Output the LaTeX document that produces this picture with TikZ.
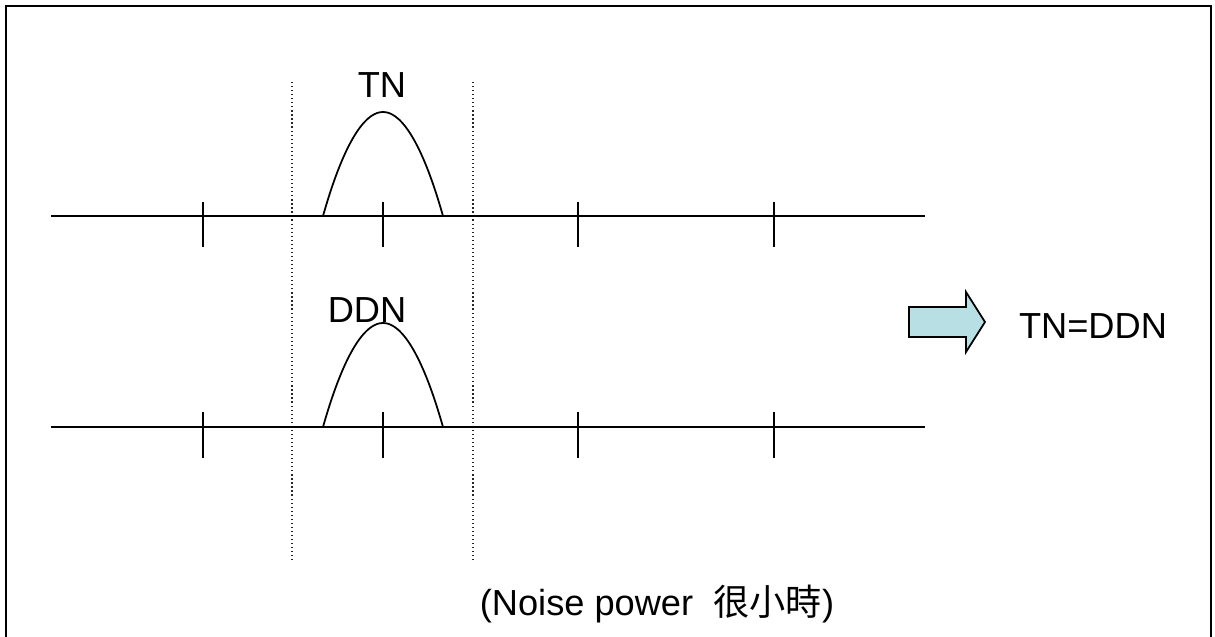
\documentclass[tikz,border=0pt]{standalone}
\usepackage{fontspec}
\setmainfont{Liberation Sans}
\newfontfamily\cjkfont{Noto Sans CJK TC}
\usetikzlibrary{positioning}
\definecolor{Ink}{HTML}{000000}
\definecolor{ArrowFill}{HTML}{B8E0E4}

\begin{document}
\begin{tikzpicture}[x=0.01cm,y=-0.01cm,
  lbl/.style={font=\fontsize{10.3}{12}\selectfont,text=Ink,inner sep=0pt,anchor=base},
  axisline/.style={Ink,line width=0.6pt},
  tickline/.style={Ink,line width=0.55pt},
  bump/.style={Ink,line width=0.5pt},
  guide/.style={Ink!85,line width=0.4pt,dash pattern=on 0.35pt off 0.8pt}]
\useasboundingbox (0,0) rectangle (1215,637);
\draw[Ink,line width=0.7pt] (6,640) -- (6,6) -- (1211,6) -- (1211,640);
% dotted window
\draw[guide] (292,82) -- (292,562);
\draw[guide] (473,82) -- (473,562);
% upper axis: TN
\draw[axisline] (51,216) -- (925,216);
\foreach \x in {203,383,578,774}
  \draw[tickline] (\x,202) -- (\x,247);
\draw[bump] (323,216) parabola bend (383,112) (443,216);
\node[lbl] (tn) at (382,98) {TN};
% lower axis: DDN
\draw[axisline] (51,427) -- (925,427);
\foreach \x in {203,383,578,774}
  \draw[tickline] (\x,412) -- (\x,458);
\draw[bump] (323,427) parabola bend (383,323) (443,427);
\node[lbl] (ddn) at (367,323) {DDN};
% result
\draw[Ink,line width=0.5pt,fill=ArrowFill] (909,307) -- (966,307) -- (966,292) -- (985,322)
  -- (966,352) -- (966,337) -- (909,337) -- cycle;
\node[lbl] (eq) at (1093,339) {TN=DDN};
\node[lbl] (note) at (657,615) {(Noise power\ \ {\cjkfont 很小時})};
\end{tikzpicture}
\end{document}
